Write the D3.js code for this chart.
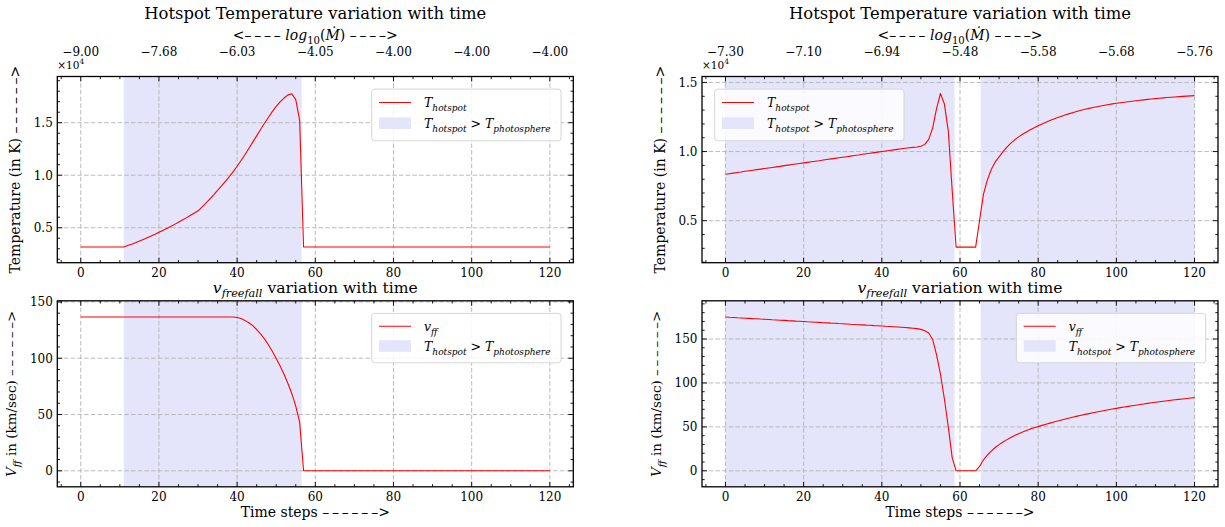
<!DOCTYPE html>
<html>
<head>
<meta charset="utf-8">
<script src="https://cdn.jsdelivr.net/npm/d3@7"></script>
<style>
  html, body { margin: 0; padding: 0; background: #fff; }
  svg text { font-family: "DejaVu Serif", serif; fill: #000; }
</style>
</head>
<body>
<svg id="chart" width="1225" height="527"></svg>
<script>
// ---- data ---------------------------------------------------------------
const timeSteps = d3.range(0, 121);
const xMajorTicks = [0, 20, 40, 60, 80, 100, 120];

// Run A (left column)
const hotspotTempA = [
  3160, 3160, 3160, 3160, 3160, 3160, 3160, 3160, 3160, 3160, 3160, 3160,
  3300, 3430, 3580, 3730, 3890, 4050, 4210, 4380, 4560, 4740, 4930, 5120, 5320, 5520, 5730, 5940, 6160, 6380, 6610,
  6970, 7340, 7730, 8130, 8550, 8980, 9420, 9870, 10350, 10850, 11400, 11950, 12550, 13150, 13750, 14350, 14950,
  15500, 16050, 16550, 16980, 17350, 17650, 17750, 17200, 15200,
  3160, 3160, 3160, 3160, 3160, 3160, 3160, 3160, 3160, 3160, 3160, 3160, 3160, 3160, 3160, 3160,
  3160, 3160, 3160, 3160, 3160, 3160, 3160, 3160, 3160, 3160, 3160, 3160, 3160, 3160, 3160, 3160,
  3160, 3160, 3160, 3160, 3160, 3160, 3160, 3160, 3160, 3160, 3160, 3160, 3160, 3160, 3160, 3160,
  3160, 3160, 3160, 3160, 3160, 3160, 3160, 3160, 3160, 3160, 3160, 3160, 3160, 3160, 3160, 3160
];
const freefallVelA = [
  136.6, 136.6, 136.6, 136.6, 136.6, 136.6, 136.6, 136.6, 136.6, 136.6,
  136.6, 136.6, 136.6, 136.6, 136.6, 136.6, 136.6, 136.6, 136.6, 136.6,
  136.6, 136.6, 136.6, 136.6, 136.6, 136.6, 136.6, 136.6, 136.6, 136.6,
  136.6, 136.6, 136.6, 136.6, 136.6, 136.6, 136.6, 136.6, 136.6, 136.6,
  136.2, 135.2, 133.6, 131.5, 128.9, 125.5, 121.6, 117.2, 112.0, 106.2,
  99.8, 93.0, 85.7, 77.5, 68.5, 57.5, 43.0,
  0, 0, 0, 0, 0, 0, 0, 0, 0, 0, 0, 0, 0, 0, 0, 0,
  0, 0, 0, 0, 0, 0, 0, 0, 0, 0, 0, 0, 0, 0, 0, 0,
  0, 0, 0, 0, 0, 0, 0, 0, 0, 0, 0, 0, 0, 0, 0, 0,
  0, 0, 0, 0, 0, 0, 0, 0, 0, 0, 0, 0, 0, 0, 0, 0
];
const hotPhaseA = [[11, 56.5]];
const logMdotLabelsA = ["\u22129.00", "\u22127.68", "\u22126.03", "\u22124.05", "\u22124.00", "\u22124.00", "\u22124.00"];

// Run B (right column)
const hotspotTempB = [
  8360, 8400, 8440, 8480, 8520, 8570, 8610, 8650, 8690, 8730,
  8770, 8810, 8850, 8890, 8930, 8980, 9020, 9060, 9100, 9140,
  9180, 9220, 9260, 9300, 9340, 9390, 9430, 9470, 9510, 9550,
  9590, 9630, 9670, 9710, 9750, 9800, 9840, 9880, 9920, 9960,
  10000, 10040, 10080, 10120, 10160, 10200, 10240, 10270, 10300, 10330,
  10380, 10520, 10880, 11700, 13100, 14200, 13450, 11500, 7200, 3090,
  3090, 3090, 3090, 3090, 3090, 5000, 6900, 7950, 8700, 9250,
  9620, 9995, 10325, 10610, 10850, 11060, 11250, 11420, 11580, 11730,
  11870, 11995, 12123, 12243, 12356, 12462, 12562, 12656, 12744, 12830,
  12910, 12986, 13057, 13124, 13187, 13246, 13301, 13353, 13402, 13448,
  13491, 13532, 13571, 13608, 13643, 13677, 13710, 13742, 13773, 13803,
  13832, 13858, 13883, 13907, 13930, 13952, 13973, 13993, 14012, 14031,
  14049
];
const freefallVelB = [
  175.0, 174.7, 174.5, 174.2, 174.0, 173.7, 173.5, 173.2, 173.0, 172.7,
  172.5, 172.2, 171.9, 171.7, 171.4, 171.2, 170.9, 170.7, 170.4, 170.2,
  169.9, 169.6, 169.4, 169.1, 168.9, 168.6, 168.4, 168.1, 167.9, 167.6,
  167.4, 167.1, 166.8, 166.6, 166.3, 166.1, 165.8, 165.6, 165.3, 165.1,
  164.8, 164.5, 164.3, 164.0, 163.7, 163.4, 163.1, 162.7, 162.3, 161.8,
  161.0, 159.5, 156.8, 149.5, 132.0, 110.0, 82.0, 50.0, 15.0, 0,
  0, 0, 0, 0, 0, 5.0, 12.5, 18.0, 22.5, 26.5,
  29.8, 32.8, 35.5, 38.0, 40.2, 42.3, 44.2, 46.0, 47.7, 49.0,
  50.3, 51.7, 53.0, 54.3, 55.5, 56.7, 57.9, 59.0, 60.1, 61.2,
  62.2, 63.2, 64.2, 65.1, 66.0, 66.9, 67.8, 68.7, 69.5, 70.3,
  71.1, 71.9, 72.6, 73.3, 74.0, 74.7, 75.4, 76.1, 76.8, 77.4,
  78.0, 78.6, 79.2, 79.8, 80.3, 80.8, 81.3, 81.8, 82.3, 82.8,
  83.3
];
const hotPhaseB = [[0, 58.6], [65.3, 120]];
const logMdotLabelsB = ["\u22127.30", "\u22127.10", "\u22126.94", "\u22125.48", "\u22125.58", "\u22125.68", "\u22125.76"];

const tempTicks = [5000, 10000, 15000];
const velTicks = [0, 50, 100, 150];

// ---- styling ------------------------------------------------------------
const RED = "#ff0000";
const SHADE = "#e4e4fb";
const GRID = "#b3b3b3";
const FS_TICK = 12, FS_LABEL = 14, FS_TITLE = 16.4, FS_LEGEND = 12.5;
const DASHES = "\u2013\u2009\u2013\u2009\u2013\u2009\u2013";        // dashed arrow shaft
const ARROW6 = "\u2013\u2009\u2013\u2009\u2013\u2009\u2013\u2009\u2013\u2009\u2013>";

const svg = d3.select("#chart");

// mathtext-like label writer: parts are {t, it, sub, sup}
function rich(textSel, parts, fs) {
  let cur = 0;
  parts.forEach(p => {
    const target = p.sub ? fs * 0.3 : p.sup ? -fs * 0.4 : 0;
    const ts = textSel.append("tspan").text(p.t);
    if (target !== cur) { ts.attr("dy", target - cur); cur = target; }
    if (p.it) ts.attr("font-style", "italic");
    if (p.sub || p.sup) ts.attr("font-size", fs * 0.72);
  });
  return textSel;
}

const lblT = [{t: "T", it: 1}, {t: "hotspot", it: 1, sub: 1}];
const lblV = [{t: "v", it: 1}, {t: "ff", it: 1, sub: 1}];
const lblHot = [{t: "T", it: 1}, {t: "hotspot", it: 1, sub: 1}, {t: " > "},
                {t: "T", it: 1}, {t: "photosphere", it: 1, sub: 1}];

const panels = [
  { id: "a-temp", box: [57.3, 573.3, 76.5, 262.7], values: hotspotTempA, yDomain: [1670, 19400],
    yTicks: tempTicks, yMinor: 1000, yFmt: v => (v / 1e4).toFixed(1), shade: hotPhaseA,
    topLabels: logMdotLabelsA, legendSide: "right", legendH: 51.7, legendLabel: lblT },
  { id: "a-vel", box: [57.3, 573.3, 300.8, 486.8], values: freefallVelA, yDomain: [-14.2, 151],
    yTicks: velTicks, yMinor: 10, yFmt: v => String(v), shade: hotPhaseA,
    topLabels: null, legendSide: "right", legendH: 49.4, legendLabel: lblV },
  { id: "b-temp", box: [702, 1218, 76.5, 262.7], values: hotspotTempB, yDomain: [1960, 15430],
    yTicks: tempTicks, yMinor: 1000, yFmt: v => (v / 1e4).toFixed(1), shade: hotPhaseB,
    topLabels: logMdotLabelsB, legendSide: "left", legendH: 51.7, legendLabel: lblT },
  { id: "b-vel", box: [702, 1218, 300.8, 486.8], values: freefallVelB, yDomain: [-18.2, 193.5],
    yTicks: velTicks, yMinor: 10, yFmt: v => String(v), shade: hotPhaseB,
    topLabels: null, legendSide: "right", legendH: 49.4, legendLabel: lblV }
];

panels.forEach(p => {
  const [x0, x1, y0, y1] = p.box;
  const x = d3.scaleLinear().domain([-6, 126]).range([x0, x1]);
  const y = d3.scaleLinear().domain(p.yDomain).range([y1, y0]);
  const g = svg.append("g").attr("class", "panel " + p.id);

  g.append("clipPath").attr("id", "clip-" + p.id)
    .append("rect").attr("x", x0).attr("y", y0).attr("width", x1 - x0).attr("height", y1 - y0);
  const plot = g.append("g").attr("clip-path", `url(#clip-${p.id})`);

  // hot-phase shading
  plot.selectAll("rect.shade").data(p.shade).join("rect").attr("class", "shade")
    .attr("x", d => x(d[0])).attr("width", d => x(d[1]) - x(d[0]))
    .attr("y", y0).attr("height", y1 - y0).attr("fill", SHADE);

  // dashed grid
  plot.selectAll("line.gx").data(xMajorTicks).join("line").attr("class", "gx")
    .attr("x1", d => x(d)).attr("x2", d => x(d)).attr("y1", y0).attr("y2", y1)
    .attr("stroke", GRID).attr("stroke-width", 0.9).attr("stroke-dasharray", "4.5,2.2");
  plot.selectAll("line.gy").data(p.yTicks).join("line").attr("class", "gy")
    .attr("y1", d => y(d)).attr("y2", d => y(d)).attr("x1", x0).attr("x2", x1)
    .attr("stroke", GRID).attr("stroke-width", 0.9).attr("stroke-dasharray", "4.5,2.2");

  // series line
  const line = d3.line().x((d, i) => x(timeSteps[i])).y(d => y(d));
  plot.append("path").datum(p.values).attr("d", line)
    .attr("fill", "none").attr("stroke", RED).attr("stroke-width", 1.1)
    .attr("stroke-linejoin", "round");

  // ticks on all four sides, pointing inward
  const xMinor = d3.range(-5, 126, 5).filter(v => v % 20 !== 0);
  const yMinor = d3.range(Math.ceil(p.yDomain[0] / p.yMinor) * p.yMinor, p.yDomain[1], p.yMinor)
    .filter(v => !p.yTicks.some(t => Math.abs(t - v) < 1e-6));
  const tk = g.append("g").attr("stroke", "#000").attr("stroke-width", 0.9);
  const MAJ = 5, MIN = 2.7;
  [[xMajorTicks, MAJ], [xMinor, MIN]].forEach(([vals, len]) => {
    tk.selectAll(null).data(vals).join("line")
      .attr("x1", d => x(d)).attr("x2", d => x(d)).attr("y1", y1).attr("y2", y1 - len);
    tk.selectAll(null).data(vals).join("line")
      .attr("x1", d => x(d)).attr("x2", d => x(d)).attr("y1", y0).attr("y2", y0 + len);
  });
  [[p.yTicks, MAJ], [yMinor, MIN]].forEach(([vals, len]) => {
    tk.selectAll(null).data(vals).join("line")
      .attr("y1", d => y(d)).attr("y2", d => y(d)).attr("x1", x0).attr("x2", x0 + len);
    tk.selectAll(null).data(vals).join("line")
      .attr("y1", d => y(d)).attr("y2", d => y(d)).attr("x1", x1).attr("x2", x1 - len);
  });

  // frame
  g.append("rect").attr("x", x0).attr("y", y0).attr("width", x1 - x0).attr("height", y1 - y0)
    .attr("fill", "none").attr("stroke", "#000").attr("stroke-width", 1.3);

  // tick labels
  g.selectAll("text.xt").data(xMajorTicks).join("text").attr("class", "xt")
    .attr("x", d => x(d)).attr("y", y1 + 14.6).attr("text-anchor", "middle")
    .attr("font-size", FS_TICK).text(d => d);
  g.selectAll("text.yt").data(p.yTicks).join("text").attr("class", "yt")
    .attr("x", x0 - 4.5).attr("y", d => y(d) + 4.3).attr("text-anchor", "end")
    .attr("font-size", FS_TICK).text(d => p.yFmt(d));

  const cx = (x0 + x1) / 2;
  if (p.topLabels) {
    g.selectAll("text.xtop").data(p.topLabels).join("text").attr("class", "xtop")
      .attr("x", (d, i) => x(xMajorTicks[i])).attr("y", y0 - 21).attr("text-anchor", "middle")
      .attr("font-size", FS_TICK).text(d => d);
    rich(g.append("text").attr("x", cx).attr("y", y0 - 37).attr("text-anchor", "middle")
      .attr("font-size", FS_LABEL),
      [{t: "<" + DASHES + " "}, {t: "log", it: 1}, {t: "10", sub: 1}, {t: "("}, {t: "\u1E40", it: 1}, {t: ")"},
       {t: " " + DASHES + ">"}],
      FS_LABEL);
    g.append("text").attr("x", cx).attr("y", y0 - 58).attr("text-anchor", "middle")
      .attr("font-size", FS_TITLE).text("Hotspot Temperature variation with time");
    // exponent marker for the temperature axis
    rich(g.append("text").attr("x", x0).attr("y", y0 - 8).attr("font-size", 10.5),
      [{t: "\u00D710"}, {t: "4", sup: 1}], 10.5);
    g.append("text").attr("transform", `translate(${x0 - 37},${(y0 + y1) / 2}) rotate(-90)`)
      .attr("text-anchor", "middle").attr("font-size", FS_LABEL)
      .text("Temperature (in K) " + ARROW6);
  } else {
    rich(g.append("text").attr("x", cx).attr("y", y0 - 8.2).attr("text-anchor", "middle")
      .attr("font-size", 15.6),
      [{t: "v", it: 1}, {t: "freefall", it: 1, sub: 1}, {t: " variation with time"}], 15.6);
    g.append("text").attr("x", cx).attr("y", y1 + 30.5).attr("text-anchor", "middle")
      .attr("font-size", FS_LABEL).text("Time steps " + ARROW6);
    rich(g.append("text").attr("transform", `translate(${x0 - 41},${(y0 + y1) / 2}) rotate(-90)`)
      .attr("text-anchor", "middle").attr("font-size", 13.5),
      [{t: "V", it: 1}, {t: "ff", it: 1, sub: 1}, {t: " in (km/sec) " + ARROW6}], 13.5);
  }

  // legend
  const LW = 189.3, LH = p.legendH;
  const lx = p.legendSide === "right" ? x1 - 12.3 - LW : x0 + 12.7;
  const ly = y0 + 12.6;
  const lg = g.append("g").attr("transform", `translate(${lx},${ly})`);
  lg.append("rect").attr("width", LW).attr("height", LH).attr("rx", 3)
    .attr("fill", "#fff").attr("fill-opacity", 0.85).attr("stroke", "#d6d6d6").attr("stroke-width", 1);
  const r1 = LH * 0.26, r2 = LH * 0.66;
  lg.append("line").attr("x1", 7.3).attr("x2", 39.3).attr("y1", r1).attr("y2", r1)
    .attr("stroke", RED).attr("stroke-width", 1.1);
  lg.append("rect").attr("x", 7.3).attr("y", r2 - 5.8).attr("width", 32).attr("height", 11.6)
    .attr("fill", SHADE);
  rich(lg.append("text").attr("x", 52.3).attr("y", r1 + 4.8).attr("font-size", FS_LEGEND),
    p.legendLabel, FS_LEGEND);
  rich(lg.append("text").attr("x", 52.3).attr("y", r2 + 5.2).attr("font-size", FS_LEGEND),
    lblHot, FS_LEGEND);
});
</script>
</body>
</html>
